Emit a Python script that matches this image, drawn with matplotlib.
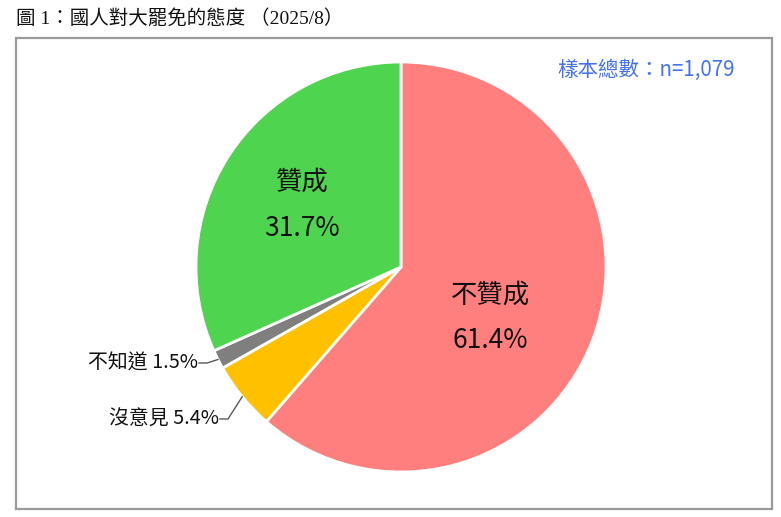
import numpy as np
import matplotlib
matplotlib.use("Agg")
import matplotlib.pyplot as plt
from matplotlib.patches import Rectangle

plt.rcParams['font.family'] = ['Noto Sans CJK TC', 'DejaVu Sans']

# data
labels = ['不贊成', '沒意見', '不知道', '贊成']
values = [61.4, 5.4, 1.5, 31.7]
colors = ['#FF7F7F', '#FFC000', '#7F7F7F', '#4ED44E']
title = '圖 1：國人對大罷免的態度 （2025/8）'
sample_text = '樣本總數：n=1,079'

W, H = 781, 517
fig = plt.figure(figsize=(W / 100, H / 100), dpi=100)
ax = fig.add_axes([0, 0, 1, 1])

cx, cy, R = 401, H - 267, 205

wedges, _ = ax.pie(values, colors=colors, startangle=90, counterclock=False,
                   center=(cx, cy), radius=R, frame=True,
                   wedgeprops=dict(edgecolor='white', linewidth=2))
ax.set_xlim(0, W)
ax.set_ylim(0, H)
ax.set_aspect('equal')
ax.axis('off')

# frame box
ax.add_patch(Rectangle((16, H - 509), 756, 471, fill=False,
                       edgecolor='#9A9A9A', linewidth=1.6))

fig.text(16 / W, 1 - 18 / H, title, ha='left', va='center', fontsize=14,
         family=['Liberation Serif', 'Noto Sans CJK TC'], color='#111111')
ax.text(735, H - 70, sample_text, ha='right', va='center', fontsize=14.8,
        color='#4472F0')

# inside labels
inside = {'贊成': (302, 205), '不贊成': (490, 318)}
for lab, v in zip(labels, values):
    if lab in inside:
        x, y = inside[lab]
        ax.text(x, H - y + 23, lab, ha='center', va='center', fontsize=19, color='#111111')
        ax.text(x, H - y - 23, f'{v}%', ha='center', va='center', fontsize=19, color='#111111')

# outside labels with leader lines
outside = {'不知道': (207, 363), '沒意見': (228, 419)}
start = 90.0
for lab, v in zip(labels, values):
    span = v / 100 * 360
    mid = np.deg2rad(start - span / 2)
    start -= span
    if lab in outside:
        ex, ey = outside[lab]
        px, py = cx + R * np.cos(mid), cy + R * np.sin(mid)
        ax.plot([px, ex, ex - 8], [py, H - ey, H - ey], color='#595959', linewidth=1)
        ax.text(ex - 9, H - ey, f'{lab} {v}%', ha='right', va='center',
                fontsize=14.3, color='#111111')

fig.savefig('out.png', dpi=100)
